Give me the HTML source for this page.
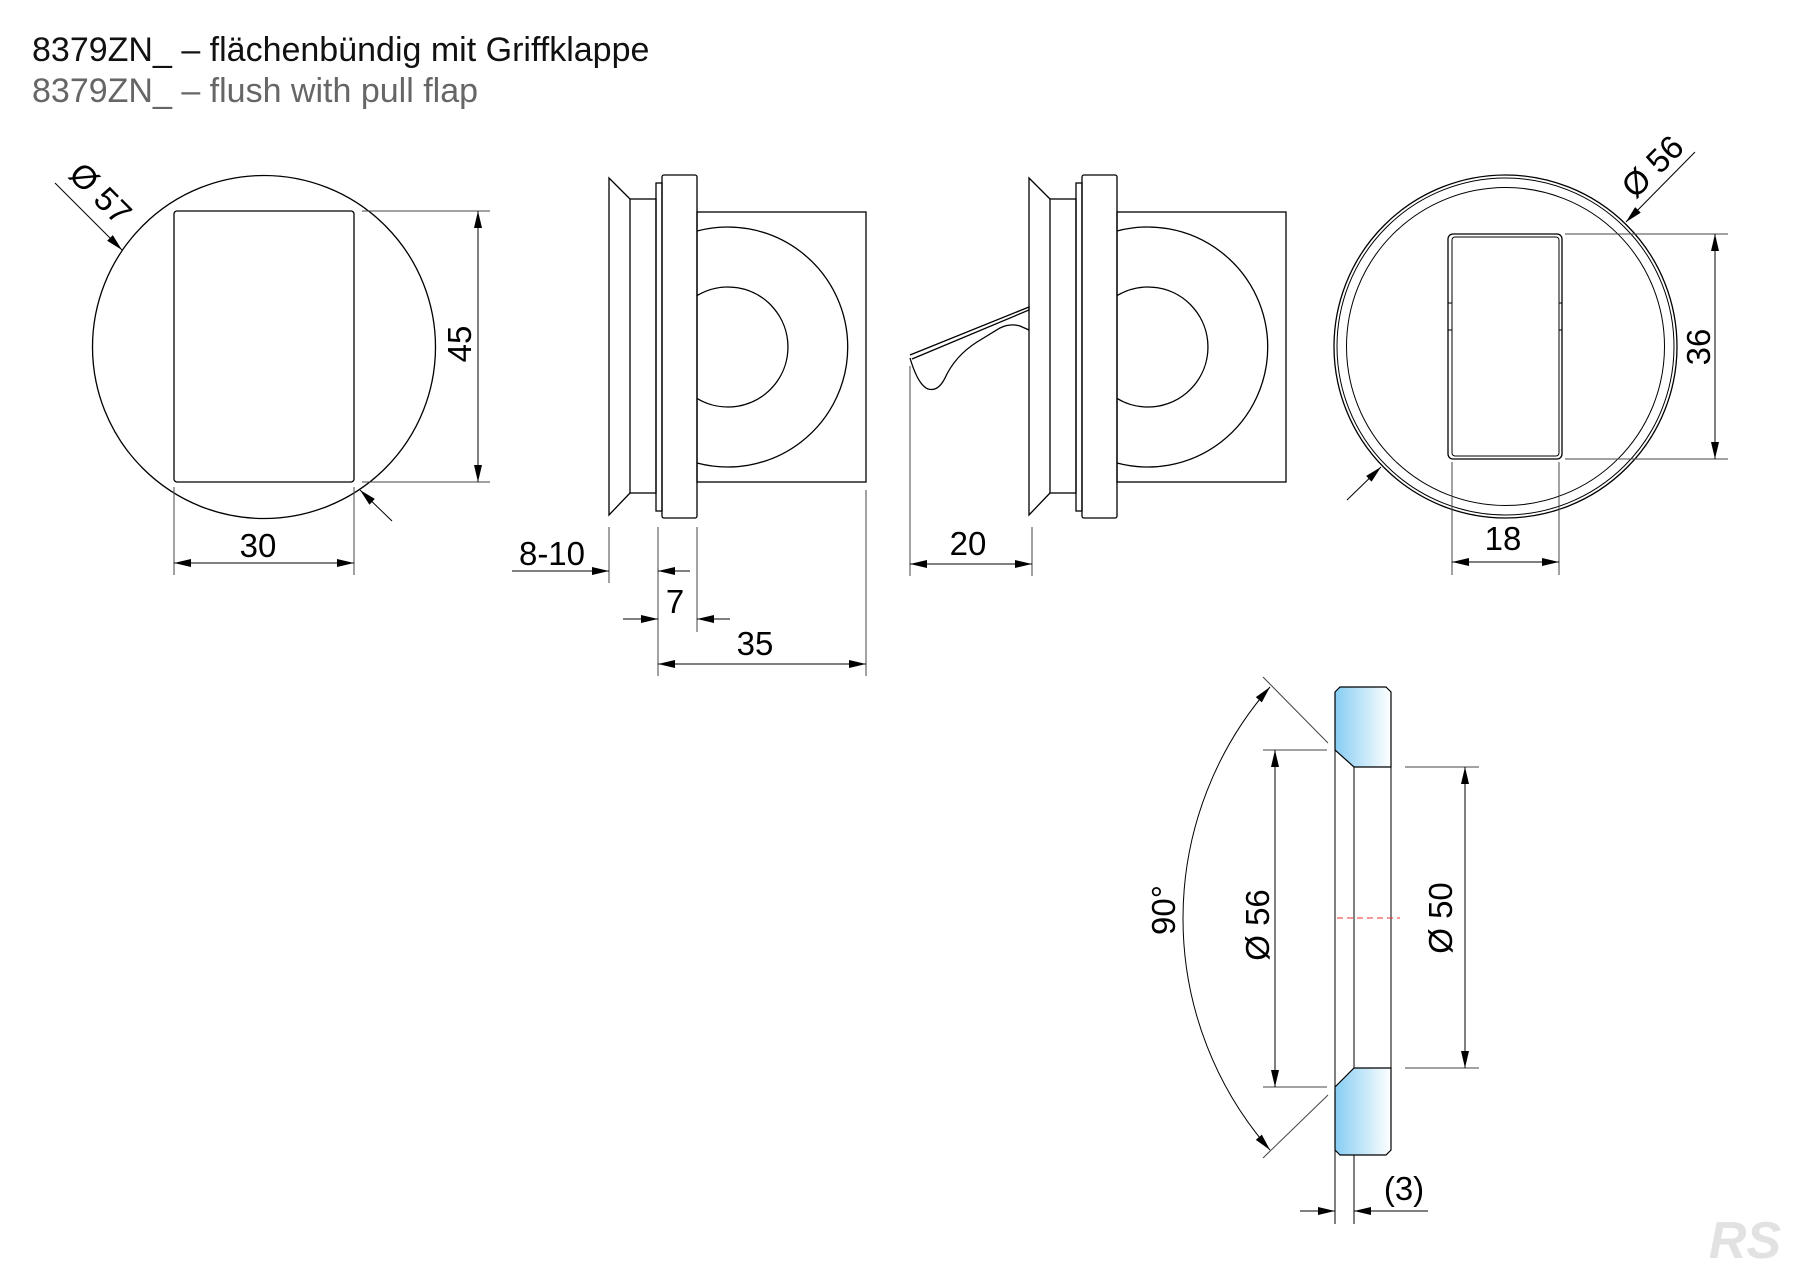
<!DOCTYPE html>
<html><head><meta charset="utf-8"><style>
html,body{margin:0;padding:0;background:#fff;}
svg{display:block;}
text{font-family:"Liberation Sans",Arial,sans-serif;}
</style></head><body>
<svg width="1800" height="1272" viewBox="0 0 1800 1272" xmlns="http://www.w3.org/2000/svg">
<defs>
<marker id="a" markerUnits="userSpaceOnUse" markerWidth="18" markerHeight="8" refX="17" refY="4" orient="auto-start-reverse"><path d="M0,0 L17,4 L0,8 Z" fill="#000"/></marker>
<linearGradient id="g" x1="0" x2="1" y1="0" y2="0"><stop offset="0" stop-color="#86cdf3"/><stop offset="1" stop-color="#ffffff"/></linearGradient>
</defs>
<rect width="1800" height="1272" fill="#fff"/>
<text x="32" y="61" font-size="34" fill="#111">8379ZN_ – flächenbündig mit Griffklappe</text>
<text x="32" y="102" font-size="34" fill="#666">8379ZN_ – flush with pull flap</text>

<g fill="none" stroke="#000" stroke-width="1.3">
<circle cx="264" cy="347" r="171.5"/>
<rect x="174" y="211" width="180" height="271" rx="3"/>
</g>
<g fill="none" stroke="#444" stroke-width="1">
<line x1="362" y1="211" x2="490" y2="211"/><line x1="362" y1="482" x2="490" y2="482"/>
<line x1="174" y1="487" x2="174" y2="575"/><line x1="354" y1="487" x2="354" y2="575"/>
</g>
<g stroke="#000" stroke-width="1" fill="none">
<line x1="478" y1="211" x2="478" y2="482" marker-start="url(#a)" marker-end="url(#a)"/>
<line x1="174" y1="563" x2="354" y2="563" marker-start="url(#a)" marker-end="url(#a)"/>
<line x1="55" y1="183" x2="122" y2="250" marker-end="url(#a)"/>
<line x1="392" y1="521" x2="360" y2="490" marker-end="url(#a)"/>
</g>
<g font-size="33" fill="#000" text-anchor="middle">
<text transform="translate(459,344) rotate(-90)" y="12">45</text>
<text x="258" y="557">30</text>
<text transform="translate(101,193) rotate(45)" y="12">Ø 57</text>
</g>

<g id="sv" fill="none" stroke="#000" stroke-width="1.3">
<path d="M630,199 L609,178 L609,515 L630,493"/>
<rect x="630" y="199" width="26" height="294"/>
<rect x="656" y="183" width="6" height="328"/>
<rect x="662" y="175" width="35" height="343" rx="2"/>
<rect x="697" y="212" width="169" height="270"/>
<path d="M697,231 A120,120 0 1 1 697,463"/>
<path d="M697,295.6 A60,60 0 1 1 697,398.4"/>
</g>
<use href="#sv" transform="translate(420,0)"/>
<path d="M910,355 L1029,307 L1029,310 L912,359 M1029,330 L1020,326 Q1010,323 1000,328 L977,342 Q955,356 945,378 Q938,392 928,389 Q918,385 910,358" fill="none" stroke="#000" stroke-width="1.3"/>

<g fill="none" stroke="#444" stroke-width="1">
<line x1="609" y1="527" x2="609" y2="583"/>
<line x1="658" y1="527" x2="658" y2="676"/>
<line x1="697" y1="527" x2="697" y2="632"/>
<line x1="866" y1="490" x2="866" y2="676"/>
<line x1="910" y1="366" x2="910" y2="576"/>
<line x1="1032" y1="527" x2="1032" y2="576"/>
</g>
<g stroke="#000" stroke-width="1" fill="none">
<line x1="512" y1="571" x2="609" y2="571" marker-end="url(#a)"/>
<line x1="690" y1="571" x2="658" y2="571" marker-end="url(#a)"/>
<line x1="623" y1="619" x2="658" y2="619" marker-end="url(#a)"/>
<line x1="730" y1="619" x2="697" y2="619" marker-end="url(#a)"/>
<line x1="658" y1="664" x2="866" y2="664" marker-start="url(#a)" marker-end="url(#a)"/>
<line x1="910" y1="564" x2="1032" y2="564" marker-start="url(#a)" marker-end="url(#a)"/>
</g>
<g font-size="33" fill="#000" text-anchor="middle">
<text x="552" y="565">8-10</text>
<text x="675" y="613">7</text>
<text x="755" y="655">35</text>
<text x="968" y="555">20</text>
</g>

<g fill="none" stroke="#000" stroke-width="1.3">
<circle cx="1505.5" cy="346.5" r="171.5"/>
<circle cx="1505.5" cy="346.5" r="168.5" stroke-width="1"/>
<circle cx="1505.5" cy="346.5" r="159" stroke-width="1"/>
<rect x="1448" y="234" width="114" height="225" rx="5"/>
<rect x="1452" y="237" width="107" height="219" rx="3" stroke-width="1"/>
<rect x="1448" y="303" width="4" height="27" stroke-width="1"/>
<rect x="1559" y="303" width="3" height="27" stroke-width="1"/>
</g>
<g fill="none" stroke="#444" stroke-width="1">
<line x1="1565" y1="234" x2="1728" y2="234"/><line x1="1565" y1="459" x2="1728" y2="459"/>
<line x1="1452" y1="462" x2="1452" y2="575"/><line x1="1559" y1="462" x2="1559" y2="575"/>
</g>
<g stroke="#000" stroke-width="1" fill="none">
<line x1="1715" y1="234" x2="1715" y2="459" marker-start="url(#a)" marker-end="url(#a)"/>
<line x1="1452" y1="562" x2="1559" y2="562" marker-start="url(#a)" marker-end="url(#a)"/>
<line x1="1695" y1="152" x2="1626" y2="222" marker-end="url(#a)"/>
<line x1="1347" y1="500" x2="1381" y2="467" marker-end="url(#a)"/>
</g>
<g font-size="33" fill="#000" text-anchor="middle">
<text transform="translate(1698,347) rotate(-90)" y="12">36</text>
<text x="1503" y="550">18</text>
<text transform="translate(1652,166) rotate(-45)" y="12">Ø 56</text>
</g>

<path d="M1335,692 L1340,687 L1386,687 L1391,692 L1391,767 L1354,767 L1335,750 Z" fill="url(#g)" stroke="#000" stroke-width="1.2"/>
<path d="M1335,1087 L1354,1068 L1391,1068 L1391,1150 L1386,1155 L1340,1155 L1335,1150 Z" fill="url(#g)" stroke="#000" stroke-width="1.2"/>
<g stroke="#000" stroke-width="1" fill="none">
<line x1="1335" y1="750" x2="1335" y2="1224"/>
<line x1="1335" y1="692" x2="1335" y2="750"/>
<line x1="1391" y1="767" x2="1391" y2="1068"/>
<line x1="1354" y1="767" x2="1354" y2="1068"/>
<line x1="1354" y1="1155" x2="1354" y2="1224"/>
</g>
<line x1="1337" y1="918" x2="1400" y2="918" stroke="#e33" stroke-width="1" stroke-dasharray="6,4"/>
<g fill="none" stroke="#444" stroke-width="1">
<line x1="1405" y1="767" x2="1479" y2="767"/><line x1="1405" y1="1068" x2="1479" y2="1068"/>
<line x1="1263" y1="750" x2="1327" y2="750"/><line x1="1263" y1="1087" x2="1327" y2="1087"/>
<line x1="1263" y1="677" x2="1328" y2="743"/><line x1="1328" y1="1095" x2="1263" y2="1158"/>
</g>
<g stroke="#000" stroke-width="1" fill="none">
<line x1="1465" y1="767" x2="1465" y2="1068" marker-start="url(#a)" marker-end="url(#a)"/>
<line x1="1275" y1="750" x2="1275" y2="1087" marker-start="url(#a)" marker-end="url(#a)"/>
<path d="M1270,687 A351.5,351.5 0 0 0 1270,1150" marker-start="url(#a)" marker-end="url(#a)"/>
<line x1="1300" y1="1211" x2="1335" y2="1211" marker-end="url(#a)"/>
<line x1="1428" y1="1211" x2="1354" y2="1211" marker-end="url(#a)"/>
</g>
<g font-size="33" fill="#000" text-anchor="middle">
<text transform="translate(1440,918) rotate(-90)" y="12">Ø 50</text>
<text transform="translate(1257,925) rotate(-90)" y="12">Ø 56</text>
<text transform="translate(1163,910) rotate(-90)" y="12">90°</text>
<text x="1404" y="1200">(3)</text>
</g>
<text x="1745" y="1258" font-size="52" font-weight="bold" font-style="italic" fill="#e2e2e2" text-anchor="middle">RS</text>
</svg>
</body></html>
